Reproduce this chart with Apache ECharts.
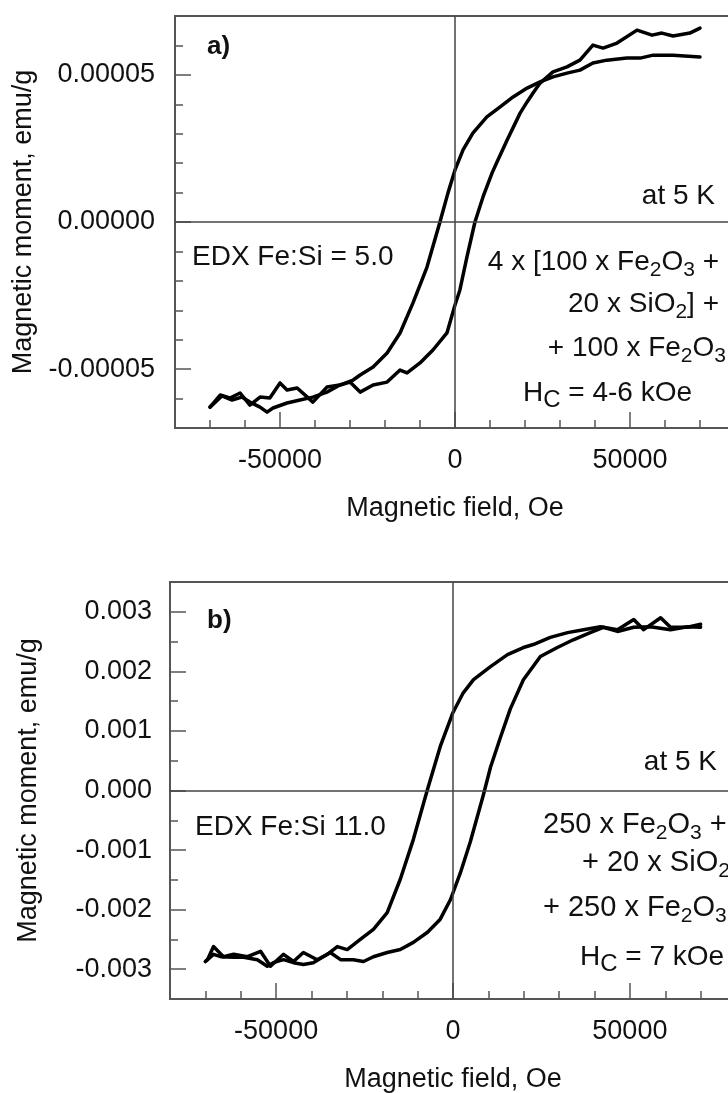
<!DOCTYPE html>
<html style="height: 100%">
<head>
<meta charset="utf-8">
<script src="https://cdn.jsdelivr.net/npm/echarts@6.0.0/dist/echarts.min.js"></script>
<style>
  html, body { margin: 0; background: #fff; }
  #container { width: 728px; height: 1093px; }
</style>
</head>
<body>
<div id="container"></div>
<script type="text/javascript">

// ---- panel a) : 4 x [100 x Fe2O3 + 20 x SiO2] + 100 x Fe2O3 ----
var fieldA_down = [70000, 62300, 56600, 52900, 49100, 43400, 39400, 35700, 32000, 28000,
    24300, 20600, 16600, 12900, 9100, 5100, 2300, 0, -2000, -4300,
    -8000, -12000, -15700, -19400, -23400, -27100, -29100, -32900, -36600, -40600,
    -45100, -48000, -50000, -52900, -55700, -58600, -61400, -64300, -67100, -70000];
var momentA_down = [5.61e-5, 5.67e-5, 5.67e-5, 5.57e-5, 5.57e-5, 5.50e-5, 5.40e-5, 5.16e-5, 5.06e-5, 4.93e-5,
    4.76e-5, 4.55e-5, 4.25e-5, 3.91e-5, 3.57e-5, 3.02e-5, 2.45e-5, 1.77e-5, 0.99e-5, 0,
    -1.53e-5, -2.75e-5, -3.77e-5, -4.45e-5, -4.93e-5, -5.20e-5, -5.37e-5, -5.54e-5, -5.61e-5, -6.12e-5,
    -5.64e-5, -5.71e-5, -5.47e-5, -5.98e-5, -5.95e-5, -6.22e-5, -5.81e-5, -5.98e-5, -5.88e-5, -6.29e-5];

var fieldA_up = [-70000, -66600, -63700, -60900, -58600, -55700, -53700, -52000, -48000, -44300,
    -40600, -36600, -32900, -30000, -27100, -23400, -19400, -15700, -13700, -10000,
    -6300, -2300, 0, 1400, 3400, 5700, 8000, 10600, 12000, 14900,
    18600, 20600, 22300, 24300, 28000, 32000, 35700, 39400, 42300, 46300,
    52000, 56300, 59100, 62300, 67100, 70000];
var momentA_up = [-6.29e-5, -5.91e-5, -6.05e-5, -5.95e-5, -6.12e-5, -6.29e-5, -6.46e-5, -6.32e-5, -6.15e-5, -6.05e-5,
    -5.95e-5, -5.78e-5, -5.54e-5, -5.44e-5, -5.78e-5, -5.54e-5, -5.44e-5, -5.03e-5, -5.13e-5, -4.79e-5,
    -4.35e-5, -3.77e-5, -2.82e-5, -2.31e-5, -1.19e-5, 0, 0.85e-5, 1.67e-5, 2.04e-5, 2.79e-5,
    3.70e-5, 4.08e-5, 4.38e-5, 4.72e-5, 5.10e-5, 5.27e-5, 5.50e-5, 6.01e-5, 5.91e-5, 6.08e-5,
    6.52e-5, 6.35e-5, 6.42e-5, 6.32e-5, 6.42e-5, 6.59e-5];

// ---- panel b) : 250 x Fe2O3 + 20 x SiO2 + 250 x Fe2O3 ----
var fieldB_down = [70000, 66300, 61500, 58700, 53900, 51100, 46500, 41700, 36900, 32400,
    27500, 22700, 19900, 15400, 10600, 5800, 2900, 0, -3600, -7200,
    -11200, -14900, -18600, -22500, -26200, -29900, -32700, -35500, -38400, -42300,
    -45100, -47900, -51600, -54400, -58100, -62000, -64900, -67700, -69400, -70000];
var momentB_down = [0.00279, 0.00274, 0.00274, 0.00290, 0.00270, 0.00287, 0.00270, 0.00275, 0.00270, 0.00265,
    0.00257, 0.00245, 0.00240, 0.00228, 0.00208, 0.00186, 0.00164, 0.00131, 0.00074, 0.00002,
    -0.00082, -0.00149, -0.00205, -0.00233, -0.00250, -0.00267, -0.00262, -0.00275, -0.00284, -0.00272,
    -0.00287, -0.00275, -0.00295, -0.00270, -0.00279, -0.00275, -0.00279, -0.00262, -0.00284, -0.00287];

var fieldB_up = [-70000, -67700, -65700, -62000, -59200, -55300, -52500, -50800, -47900, -45100,
    -42300, -39500, -34700, -31800, -28200, -25300, -22500, -18600, -14900, -11200,
    -7200, -3600, -700, 2100, 4900, 7200, 8600, 10600, 13400, 16200,
    19900, 24700, 29500, 34000, 38800, 42500, 46500, 51100, 55800, 61500,
    66300, 70000];
var momentB_up = [-0.00287, -0.00275, -0.00279, -0.00280, -0.00280, -0.00284, -0.00295, -0.00289, -0.00284, -0.00289,
    -0.00292, -0.00289, -0.00272, -0.00284, -0.00284, -0.00287, -0.00279, -0.00272, -0.00267, -0.00255,
    -0.00238, -0.00216, -0.00183, -0.00138, -0.00086, -0.00037, -0.00007, 0.00039, 0.00089, 0.00137,
    0.00186, 0.00225, 0.00240, 0.00253, 0.00265, 0.00274, 0.00267, 0.00274, 0.00275, 0.00270,
    0.00275, 0.00274];

// axis ticks / labels
var xMajor = [-50000, 0, 50000];
var yMajorA = [-0.00005, 0, 0.00005];
var yMajorB = [-0.003, -0.002, -0.001, 0, 0.001, 0.002, 0.003];

var xTitle = 'Magnetic field, Oe';
var yTitle = 'Magnetic moment, emu/g';


var FONT = '"Liberation Sans", Arial, Helvetica, sans-serif';
var AXIS_COLOR = '#555';
var TEXT_COLOR = '#111';

function pairs(xs, ys) {
    var out = [];
    for (var i = 0; i < xs.length; i++) out.push([xs[i], ys[i]]);
    return out;
}

function labelStyle() {
    return { fontSize: 27, fontFamily: FONT, color: TEXT_COLOR };
}

// bottom axis: line, short ticks, labels, name.
// second axis carries only the long major ticks; it sits on the top slot
// and is pulled down onto the bottom line with a negative offset.
function xAxesFor(gridIndex, plotHeight) {
    return [{
        gridIndex: gridIndex, type: 'value', min: -80000, max: 80000, interval: 10000,
        position: 'bottom',
        axisLine: { onZero: false, lineStyle: { color: AXIS_COLOR, width: 2 } },
        axisTick: { inside: true, length: 8, lineStyle: { color: AXIS_COLOR, width: 1.5 } },
        axisLabel: Object.assign({ customValues: xMajor, margin: 19,
            formatter: function (v) { return String(v); } }, labelStyle()),
        splitLine: { show: false },
        name: xTitle, nameLocation: 'middle', nameGap: 67,
        nameTextStyle: labelStyle()
    }, {
        gridIndex: gridIndex, type: 'value', min: -80000, max: 80000,
        position: 'top', offset: -plotHeight,
        axisLine: { show: false, onZero: false },
        axisTick: { inside: false, length: 16, customValues: xMajor,
            lineStyle: { color: AXIS_COLOR, width: 1.5 } },
        axisLabel: { show: false },
        splitLine: { show: false }
    }];
}

// same trick for y: the major-tick axis takes the right slot and is moved onto the left line
function yAxesFor(gridIndex, plotWidth, lim, step, majors, digits, gap, margin) {
    return [{
        gridIndex: gridIndex, type: 'value', min: -lim, max: lim, interval: step,
        position: 'left',
        axisLine: { onZero: false, lineStyle: { color: AXIS_COLOR, width: 2 } },
        axisTick: { inside: true, length: 8, lineStyle: { color: AXIS_COLOR, width: 1.5 } },
        axisLabel: Object.assign({ customValues: majors, margin: margin,
            formatter: function (v) { return Number(v).toFixed(digits); } }, labelStyle()),
        splitLine: { show: false },
        name: yTitle, nameLocation: 'middle', nameGap: gap,
        nameTextStyle: labelStyle()
    }, {
        gridIndex: gridIndex, type: 'value', min: -lim, max: lim,
        position: 'right', offset: -plotWidth,
        axisLine: { show: false, onZero: false },
        axisTick: { inside: false, length: 16, customValues: majors,
            lineStyle: { color: AXIS_COLOR, width: 1.5 } },
        axisLabel: { show: false },
        splitLine: { show: false }
    }];
}

var zeroLines = {
    silent: true, symbol: ['none', 'none'],
    label: { show: false },
    lineStyle: { type: 'solid', color: '#444', width: 1.5 },
    emphasis: { disabled: true },
    data: [{ xAxis: 0 }, { yAxis: 0 }]
};

function loop(data, xi, yi, withZero) {
    var s = {
        type: 'line', data: data, xAxisIndex: xi, yAxisIndex: yi,
        showSymbol: false, smooth: false, z: 3,
        lineStyle: { color: '#000', width: 3.5, join: 'round', cap: 'round' }
    };
    if (withZero) s.markLine = zeroLines;
    return s;
}

var RICH = {
    s: { fontSize: 21, fontFamily: FONT, fill: TEXT_COLOR, color: TEXT_COLOR, lineHeight: 21, verticalAlign: 'bottom' },
    c: { fontSize: 24, fontFamily: FONT, fill: TEXT_COLOR, color: TEXT_COLOR, lineHeight: 23, verticalAlign: 'bottom' }
};

function note(x, y, text, align, size, bold) {
    return {
        type: 'text', x: x, y: y, silent: true, z: 10,
        style: {
            text: text, fill: TEXT_COLOR, fontSize: size, fontFamily: FONT,
            fontWeight: bold ? 'bold' : 'normal',
            align: align, textAlign: align,
            verticalAlign: 'middle', textVerticalAlign: 'middle',
            lineHeight: 38, rich: RICH
        }
    };
}

var dom = document.getElementById('container');
var myChart = echarts.init(dom);

// the plot boxes run a few px past the right edge of the picture, as in the original
var option = {
    animation: false,
    backgroundColor: '#fff',
    grid: [
        { left: 175, top: 16, width: 560, height: 412, show: true, outerBoundsMode: 'none',
          borderColor: AXIS_COLOR, borderWidth: 2, backgroundColor: 'transparent' },
        { left: 170, top: 582, width: 566, height: 417, show: true, outerBoundsMode: 'none',
          borderColor: AXIS_COLOR, borderWidth: 2, backgroundColor: 'transparent' }
    ],
    xAxis: xAxesFor(0, 412).concat(xAxesFor(1, 417)),
    yAxis: yAxesFor(0, 560, 0.00007, 0.00001, yMajorA, 5, 132, 20)
        .concat(yAxesFor(1, 566, 0.0035, 0.0005, yMajorB, 3, 128, 18)),
    series: [
        loop(pairs(fieldA_down, momentA_down), 0, 0, true),
        loop(pairs(fieldA_up, momentA_up), 0, 0, false),
        loop(pairs(fieldB_down, momentB_down), 2, 2, true),
        loop(pairs(fieldB_up, momentB_up), 2, 2, false)
    ],
    graphic: [
        note(207, 47, 'a)', 'left', 26, true),
        note(715, 196, 'at 5 K', 'right', 28),
        note(192, 257, 'EDX Fe:Si = 5.0', 'left', 28),
        note(719, 262, '4 x [100 x Fe{s|2}O{s|3} +', 'right', 28),
        note(719, 304, '20 x SiO{s|2}] +', 'right', 28),
        note(726, 348, '+ 100 x Fe{s|2}O{s|3}', 'right', 28),
        note(523, 393, 'H{c|C} = 4-6 kOe', 'left', 28),

        note(207, 621, 'b)', 'left', 26, true),
        note(717, 762, 'at 5 K', 'right', 28),
        note(195, 827, 'EDX Fe:Si 11.0', 'left', 28),
        note(543, 825, '250 x Fe{s|2}O{s|3} +', 'left', 29),
        note(582, 863, '+ 20 x SiO{s|2}', 'left', 29),
        note(543, 908, '+ 250 x Fe{s|2}O{s|3}', 'left', 29),
        note(580, 957, 'H{c|C} = 7 kOe', 'left', 28)
    ]
};

if (option && typeof option === 'object') {
    myChart.setOption(option);
}
</script>
</body>
</html>
